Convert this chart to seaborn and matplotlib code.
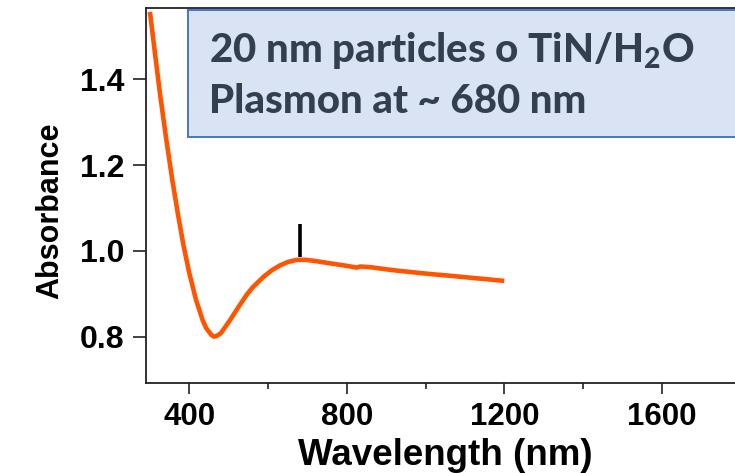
import matplotlib
matplotlib.use("Agg")
import matplotlib.pyplot as plt
from matplotlib.patches import Rectangle
from matplotlib.ticker import FixedLocator, FixedFormatter
import seaborn as sns
import pandas as pd

# UV-Vis-NIR spectrum of TiN nanoparticles in water
wavelength_nm = [300, 313, 326, 341, 356, 371, 385, 400, 417, 434, 443, 451, 457, 463,
                 470, 480, 490, 503, 527, 546, 561, 589, 610, 630, 650, 673, 695, 715,
                 757, 800, 825, 834, 842, 859, 900, 927, 1011, 1062, 1130, 1200]
absorbance = [1.557, 1.459, 1.363, 1.263, 1.170, 1.086, 1.014, 0.948, 0.886, 0.838, 0.820,
              0.810, 0.803, 0.800, 0.802, 0.808, 0.821, 0.838, 0.872, 0.898, 0.915, 0.940,
              0.955, 0.966, 0.974, 0.979, 0.979, 0.977, 0.971, 0.965, 0.961, 0.9635, 0.963,
              0.962, 0.957, 0.954, 0.946, 0.942, 0.936, 0.930]

plasmon_nm = 680
plasmon_marker = [0.985, 1.063]

x_major = [400, 800, 1200, 1600]
x_major_labels = ["400", "800", "1200", "1600"]
x_minor = [600, 1000, 1400, 1800]
y_major = [0.8, 1.0, 1.2, 1.4]
y_major_labels = ["0.8", "1.0", "1.2", "1.4"]

box_lines = ["20 nm particles o TiN/H$_2$O", "Plasmon at ~ 680 nm"]

sns.set_theme(style="ticks")
plt.rcParams["font.family"] = ["Liberation Sans", "DejaVu Sans"]
plt.rcParams["mathtext.fontset"] = "custom"
plt.rcParams["mathtext.rm"] = "Lato:black"
plt.rcParams["mathtext.it"] = "Lato:black"
plt.rcParams["mathtext.bf"] = "Lato:black"

W, H = 735, 473
fig = plt.figure(figsize=(W / 100, H / 100), dpi=100)
ax = fig.add_axes([146 / W, 1 - 383 / H, 1 - 146 / W, (383 - 8) / H])

df = pd.DataFrame({"Wavelength (nm)": wavelength_nm, "Absorbance": absorbance})
sns.lineplot(data=df, x="Wavelength (nm)", y="Absorbance", ax=ax,
             color="#FF5500", linewidth=3.3, solid_capstyle="butt", solid_joinstyle="round")

ax.vlines(plasmon_nm, plasmon_marker[0], plasmon_marker[1], color="black", linewidth=2.6)

ax.set_xlim(290, 1786)
ax.set_ylim(0.692, 1.566)

ax.xaxis.set_major_locator(FixedLocator(x_major))
ax.xaxis.set_major_formatter(FixedFormatter(x_major_labels))
ax.xaxis.set_minor_locator(FixedLocator(x_minor))
ax.yaxis.set_major_locator(FixedLocator(y_major))
ax.yaxis.set_major_formatter(FixedFormatter(y_major_labels))

for side in ["left", "bottom", "top"]:
    ax.spines[side].set_visible(True)
    ax.spines[side].set_color("#222222")
    ax.spines[side].set_linewidth(1.3)
ax.spines["right"].set_visible(False)

ax.tick_params(axis="x", which="major", length=8, width=1.2, color="#222222",
               labelsize=22.5, pad=6, direction="out", top=False)
ax.tick_params(axis="x", which="minor", length=4, width=1.2, color="#222222",
               direction="out", top=False)
ax.tick_params(axis="y", which="major", length=9.5, width=1.2, color="#222222",
               labelsize=23, pad=6, direction="out", right=False)
for lab in ax.get_xticklabels() + ax.get_yticklabels():
    lab.set_fontweight("bold")
    lab.set_color("black")

ax.set_xlabel("")
ax.set_ylabel("")
fig.text((297 + 593) / 2 / W, 1 - 465 / H, "Wavelength (nm)", ha="center", va="baseline",
         fontsize=26.5, fontweight="bold", color="black")
fig.text(50 / W, 1 - 210.5 / H, "Absorbance", ha="center", va="center", rotation=90,
         fontsize=22, fontweight="bold", color="black")

# Annotation box
box = Rectangle((188.3 / W, 1 - 136.7 / H), (760 - 188.3) / W, (136.7 - 10) / H,
                transform=fig.transFigure, facecolor="#DAE3F3", edgecolor="#4A76C6",
                linewidth=1.4, zorder=5, clip_on=False)
fig.patches.append(box)
for line, base in zip(box_lines, [62, 113]):
    fig.text(209 / W, 1 - base / H, line, ha="left", va="baseline", fontsize=29,
             fontfamily="Lato", fontweight="black", color="#333F50", zorder=6)

fig.savefig("out.png", dpi=100)
